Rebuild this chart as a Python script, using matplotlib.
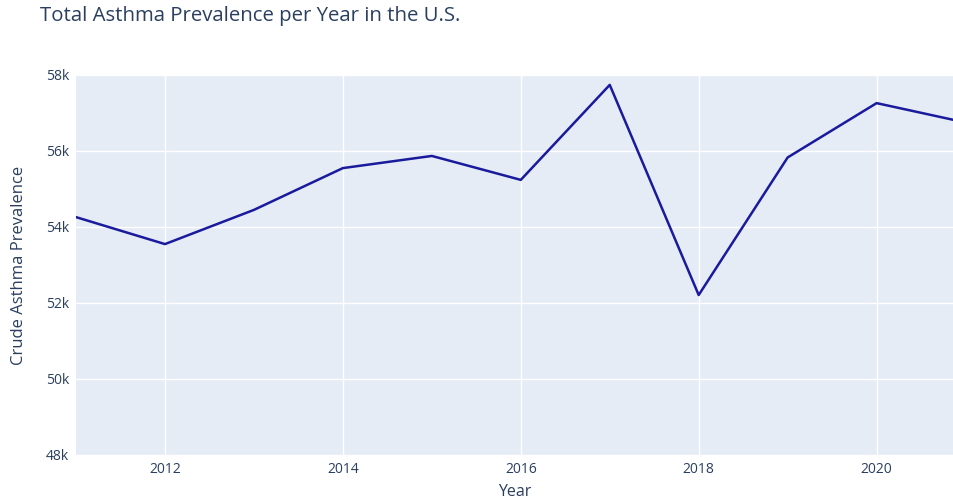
import matplotlib
matplotlib.use("Agg")
import matplotlib.pyplot as plt
from matplotlib.ticker import FuncFormatter

INK = "#2a3f5f"
BG = "#e5ecf6"
LINE = "#1a1a9c"

years = [2011, 2012, 2013, 2014, 2015, 2016, 2017, 2018, 2019, 2020, 2021]
prevalence = [54260, 53550, 54450, 55550, 55870, 55240, 57740, 52210, 55830, 57260, 56750]

plt.rcParams["font.family"] = ["Open Sans", "DejaVu Sans"]

W, H = 954, 503
fig = plt.figure(figsize=(W / 100, H / 100), dpi=100)
ax = fig.add_axes([76 / W, 1 - 455 / H, 1 - 76 / W, 380 / H])
ax.set_facecolor(BG)

ax.plot(years, prevalence, color=LINE, lw=1.8, zorder=3, clip_on=True)

ax.set_xlim(2011, 2020.87)
ax.set_ylim(48000, 58000)
ax.set_xticks([2012, 2014, 2016, 2018, 2020])
ax.set_yticks(range(48000, 58001, 2000))
ax.yaxis.set_major_formatter(FuncFormatter(lambda v, p: f"{int(v / 1000)}k"))
ax.grid(True, color="white", lw=1.0, zorder=1)
ax.set_axisbelow(True)
for s in ax.spines.values():
    s.set_visible(False)
ax.tick_params(length=0, colors=INK, labelsize=10, pad=5)

# axis titles placed in pixel terms, plotly-style
fig.text(515 / W, 1 - 492 / H, "Year", fontsize=11.5, color=INK,
         ha="center", va="center")
fig.text(19 / W, 1 - 265 / H, "Crude Asthma Prevalence", fontsize=12,
         color=INK, ha="center", va="center", rotation=90)
fig.text(40 / W, 1 - 16 / H, "Total Asthma Prevalence per Year in the U.S.",
         fontsize=14.7, color=INK, ha="left", va="center")

fig.savefig("out.png", dpi=100)
